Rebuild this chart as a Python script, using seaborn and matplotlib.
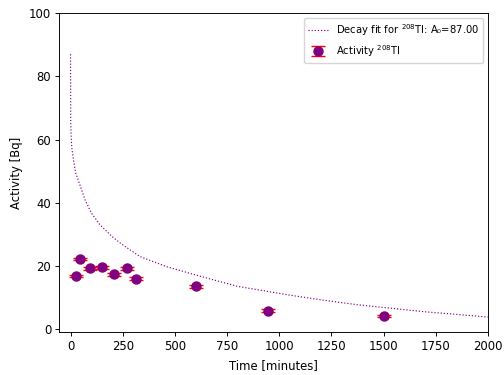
import matplotlib
matplotlib.use("Agg")
import matplotlib.pyplot as plt
import seaborn as sns
import numpy as np
import pandas as pd

# Measured activity points
time_min = [25, 46, 91, 150, 210, 270, 314, 602, 948, 1503]
activity = [16.9, 22.3, 19.3, 19.6, 17.4, 19.3, 16.0, 13.6, 5.9, 4.2]
activity_err = [0.4, 0.4, 0.4, 0.4, 0.4, 0.4, 0.4, 0.4, 0.4, 0.4]

# Decay fit curve
fit_t = [0, 1, 3, 6, 14, 25, 38, 70, 100, 142, 200, 240, 333, 461, 621, 800, 1052, 1204, 1372, 1691, 2000]
fit_a = [87.0, 66.0, 61.0, 57.5, 53.6, 49.4, 47.0, 40.9, 36.8, 33.0, 29.3, 27.2, 23.0, 19.8, 16.8, 13.6, 10.8, 9.3, 7.8, 5.6, 3.9]

s = 0.84
plt.rcParams.update({
    "font.size": 10 * s,
    "axes.linewidth": 0.8 * s,
    "xtick.major.width": 0.8 * s,
    "ytick.major.width": 0.8 * s,
    "xtick.major.size": 3.5 * s,
    "ytick.major.size": 3.5 * s,
    "xtick.major.pad": 3.5 * s,
    "ytick.major.pad": 3.5 * s,
    "legend.borderaxespad": 0.5,
})

fig = plt.figure(figsize=(5.04, 3.75), dpi=100)
ax = fig.add_axes([0.118, 0.115, 0.850, 0.850])

fit_df = pd.DataFrame({"t": fit_t, "A": fit_a})
sns.lineplot(data=fit_df, x="t", y="A", ax=ax, color="purple", linestyle=":",
             linewidth=0.85, label=r"Decay fit for $^{208}$Tl: A₀=87.00")

ax.errorbar(time_min, activity, yerr=activity_err, fmt="o", color="purple",
            ecolor="red", elinewidth=1.2 * s, capthick=1.2 * s, capsize=5,
            markersize=6.5, label=r"Activity $^{208}$Tl")

ax.set_xlim(-53, 2000)
ax.set_ylim(-0.8, 100)
ax.set_xticks([0, 250, 500, 750, 1000, 1250, 1500, 1750, 2000])
ax.set_yticks([0, 20, 40, 60, 80, 100])
ax.set_xlabel("Time [minutes]")
ax.set_ylabel("Activity [Bq]")
ax.legend(loc="upper right", fontsize=7.2)

fig.savefig("out.png", dpi=100)
